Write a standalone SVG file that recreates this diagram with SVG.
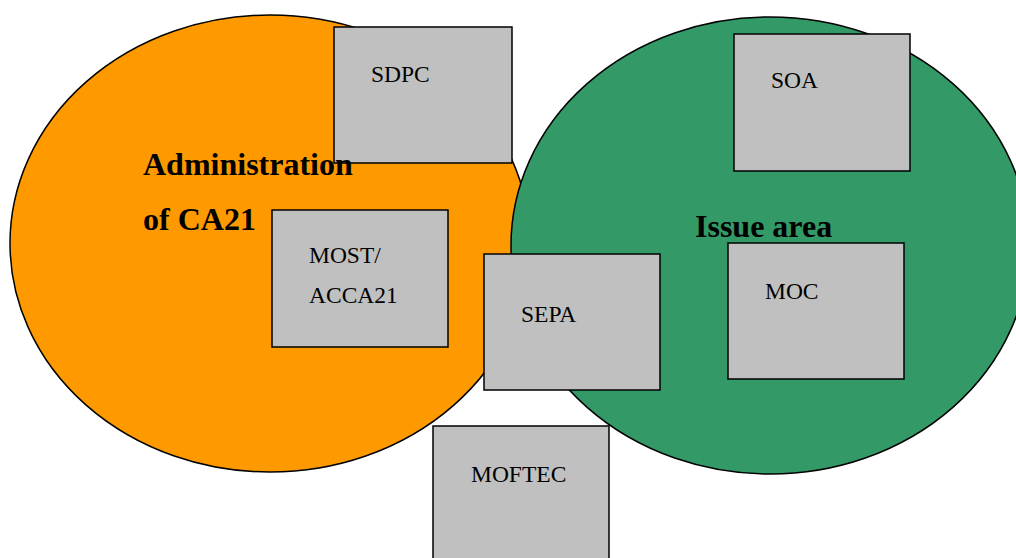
<svg xmlns="http://www.w3.org/2000/svg" width="1016" height="558" viewBox="0 0 1016 558">
<style>
.area{stroke:#000;stroke-width:1.5}
.box rect{fill:#c0c0c0;stroke:#000;stroke-width:1.5}
.lbl{font-family:"Liberation Serif","Times New Roman",serif;font-size:23.5px;fill:#000}
.big{font-family:"Liberation Serif","Times New Roman",serif;font-size:32px;font-weight:bold;fill:#000}
</style>
<rect width="1016" height="558" fill="#fff"/>
<g id="admin-area">
<ellipse class="area" cx="270" cy="243.5" rx="260" ry="228.5" fill="#ff9900"/>
</g>
<g id="issue-area">
<ellipse class="area" cx="770" cy="245.5" rx="259" ry="228.5" fill="#339966"/>
</g>
<g id="connectors"></g>
<g id="sdpc" class="box"><rect x="334" y="27" width="178" height="136"/><text class="lbl" x="371" y="82">SDPC</text></g>
<g id="most" class="box"><rect x="272" y="210" width="176" height="137"/><text class="lbl" x="309" y="263">MOST/</text><text class="lbl" x="309" y="303">ACCA21</text></g>
<g id="sepa" class="box"><rect x="484" y="254" width="176" height="136"/><text class="lbl" x="521" y="322">SEPA</text></g>
<g id="soa" class="box"><rect x="734" y="34" width="176" height="137"/><text class="lbl" x="771" y="88">SOA</text></g>
<g id="moc" class="box"><rect x="728" y="243" width="176" height="136"/><text class="lbl" x="765" y="299">MOC</text></g>
<g id="moftec" class="box"><rect x="433" y="426" width="176" height="140"/><text class="lbl" x="471" y="482">MOFTEC</text></g>
<g id="admin-label"><text class="big" x="143" y="175">Administration</text><text class="big" x="143" y="230">of CA21</text></g>
<g id="issue-label"><text class="big" x="695" y="237">Issue area</text></g>
</svg>
